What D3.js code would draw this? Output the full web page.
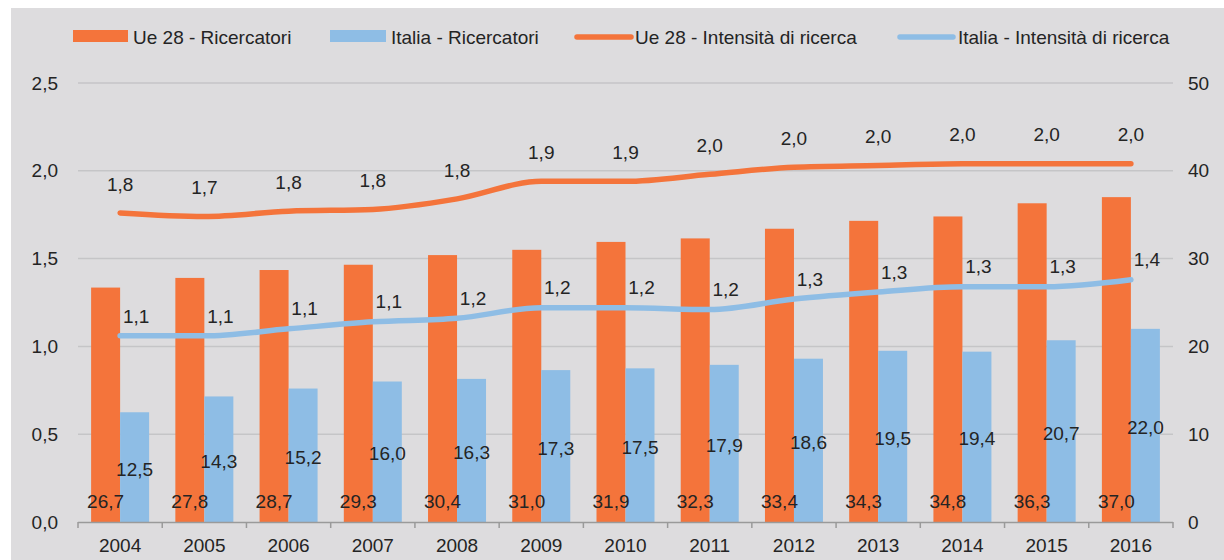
<!DOCTYPE html>
<html>
<head>
<meta charset="utf-8">
<script src="https://cdn.jsdelivr.net/npm/d3@7"></script>
<style>
  html, body { margin: 0; padding: 0; background: #ffffff; }
  svg { display: block; }
  text { font-family: "Liberation Sans", Arial, sans-serif; fill: #242424; }
</style>
</head>
<body>
<svg id="chart" width="1224" height="560"></svg>
<script>
// ---- Data ----
const years = ["2004","2005","2006","2007","2008","2009","2010","2011","2012","2013","2014","2015","2016"];
const ueRicercatori = [26.7, 27.8, 28.7, 29.3, 30.4, 31.0, 31.9, 32.3, 33.4, 34.3, 34.8, 36.3, 37.0];
const itRicercatori = [12.5, 14.3, 15.2, 16.0, 16.3, 17.3, 17.5, 17.9, 18.6, 19.5, 19.4, 20.7, 22.0];
const ueIntensita   = [1.76, 1.74, 1.77, 1.78, 1.84, 1.94, 1.94, 1.98, 2.02, 2.03, 2.04, 2.04, 2.04];
const itIntensita   = [1.06, 1.06, 1.10, 1.14, 1.16, 1.22, 1.22, 1.21, 1.27, 1.31, 1.34, 1.34, 1.38];
const leftTicks  = [0, 0.5, 1.0, 1.5, 2.0, 2.5];
const rightTicks = [0, 10, 20, 30, 40, 50];
const seriesNames = ["Ue 28 - Ricercatori", "Italia - Ricercatori", "Ue 28 - Intensità di ricerca", "Italia - Intensità di ricerca"];

const ORANGE = "#f4743b";
const BLUE = "#8ebde5";
const BG = "#dddcde";
const GRID = "#c5c5c7";
const FS = 19;

const svg = d3.select("#chart");
svg.append("rect").attr("x", 11).attr("y", 8).attr("width", 1213).attr("height", 552).attr("fill", BG);

const plot = { left: 78, right: 1173, top: 83, bottom: 522 };

const x = d3.scaleBand().domain(years).range([plot.left, plot.right]).paddingInner(0).paddingOuter(0);
const yL = d3.scaleLinear().domain([0, 2.5]).range([plot.bottom, plot.top]);
const yR = d3.scaleLinear().domain([0, 50]).range([plot.bottom, plot.top]);
const fmt = v => d3.format(".1f")(v).replace(".", ",");

// gridlines
svg.append("g").selectAll("line").data(leftTicks.slice(1)).join("line")
  .attr("x1", plot.left).attr("x2", plot.right)
  .attr("y1", d => yL(d)).attr("y2", d => yL(d))
  .attr("stroke", GRID).attr("stroke-width", 1.5);

// left axis labels
svg.append("g").selectAll("text").data(leftTicks).join("text")
  .attr("x", 58).attr("y", d => yL(d)).attr("dy", "0.35em")
  .attr("text-anchor", "end").attr("font-size", FS).text(d => fmt(d));

// right axis labels
svg.append("g").selectAll("text").data(rightTicks).join("text")
  .attr("x", 1188).attr("y", d => yR(d)).attr("dy", "0.35em")
  .attr("text-anchor", "start").attr("font-size", FS).text(d => d);

// bars
const barW = 29;
const gBars = svg.append("g");
gBars.selectAll("rect.ue").data(years).join("rect").attr("class", "ue")
  .attr("x", d => x(d) + x.bandwidth() / 2 - barW)
  .attr("width", barW)
  .attr("y", (d, i) => yR(ueRicercatori[i]))
  .attr("height", (d, i) => yR(0) - yR(ueRicercatori[i]))
  .attr("fill", ORANGE);
gBars.selectAll("rect.it").data(years).join("rect").attr("class", "it")
  .attr("x", d => x(d) + x.bandwidth() / 2)
  .attr("width", barW)
  .attr("y", (d, i) => yR(itRicercatori[i]))
  .attr("height", (d, i) => yR(0) - yR(itRicercatori[i]))
  .attr("fill", BLUE);

// x axis
const xAxisG = svg.append("g");
xAxisG.append("line").attr("x1", plot.left).attr("x2", plot.right)
  .attr("y1", plot.bottom + 0.5).attr("y2", plot.bottom + 0.5).attr("stroke", "#9a9a9a").attr("stroke-width", 1.5);
const boundaries = years.map(d => x(d)).concat([x(years[years.length - 1]) + x.bandwidth()]);
xAxisG.selectAll("line.tick").data(boundaries).join("line").attr("class", "tick")
  .attr("x1", d => d).attr("x2", d => d)
  .attr("y1", plot.bottom).attr("y2", plot.bottom + 6)
  .attr("stroke", "#9a9a9a").attr("stroke-width", 1.5);
xAxisG.selectAll("text").data(years).join("text")
  .attr("x", d => x(d) + x.bandwidth() / 2).attr("y", 545).attr("dy", "0.35em")
  .attr("text-anchor", "middle").attr("font-size", FS).text(d => d);

// bar labels
svg.append("g").selectAll("text").data(years).join("text")
  .attr("x", d => x(d) + x.bandwidth() / 2 - barW / 2)
  .attr("y", 501).attr("dy", "0.35em").attr("text-anchor", "middle").attr("font-size", FS)
  .text((d, i) => fmt(ueRicercatori[i]));
svg.append("g").selectAll("text").data(years).join("text")
  .attr("x", d => x(d) + x.bandwidth() / 2 + barW / 2)
  .attr("y", (d, i) => (yR(itRicercatori[i]) + yR(0)) / 2 + 2).attr("dy", "0.35em")
  .attr("text-anchor", "middle").attr("font-size", FS)
  .text((d, i) => fmt(itRicercatori[i]));

// lines
const cx = d => x(d) + x.bandwidth() / 2;
const lineGen = d3.line().x((d, i) => cx(years[i])).y(d => yL(d)).curve(d3.curveMonotoneX);
svg.append("path").datum(ueIntensita).attr("d", lineGen)
  .attr("fill", "none").attr("stroke", ORANGE).attr("stroke-width", 5.5).attr("stroke-linecap", "round");
svg.append("path").datum(itIntensita).attr("d", lineGen)
  .attr("fill", "none").attr("stroke", BLUE).attr("stroke-width", 5.5).attr("stroke-linecap", "round");

// line labels
svg.append("g").selectAll("text").data(years).join("text")
  .attr("x", d => cx(d)).attr("y", (d, i) => yL(ueIntensita[i]) - 29).attr("dy", "0.35em")
  .attr("text-anchor", "middle").attr("font-size", FS)
  .text((d, i) => fmt(ueIntensita[i]));
svg.append("g").selectAll("text").data(years).join("text")
  .attr("x", d => cx(d) + 16).attr("y", (d, i) => yL(itIntensita[i]) - 20).attr("dy", "0.35em")
  .attr("text-anchor", "middle").attr("font-size", FS)
  .text((d, i) => fmt(itIntensita[i]));

// legend
const legend = svg.append("g");
const legItems = [
  { name: seriesNames[0], type: "rect", color: ORANGE, x0: 73, x1: 128, tx: 133 },
  { name: seriesNames[1], type: "rect", color: BLUE, x0: 330, x1: 386, tx: 391 },
  { name: seriesNames[2], type: "line", color: ORANGE, x0: 577, x1: 631, tx: 635 },
  { name: seriesNames[3], type: "line", color: BLUE, x0: 900, x1: 953, tx: 958 }
];
legItems.forEach(it => {
  if (it.type === "rect") {
    legend.append("rect").attr("x", it.x0).attr("y", 30).attr("width", it.x1 - it.x0).attr("height", 12).attr("fill", it.color);
  } else {
    legend.append("line").attr("x1", it.x0).attr("x2", it.x1).attr("y1", 37).attr("y2", 37)
      .attr("stroke", it.color).attr("stroke-width", 5.5).attr("stroke-linecap", "round");
  }
  legend.append("text").attr("x", it.tx).attr("y", 37).attr("dy", "0.35em").attr("font-size", FS).text(it.name);
});
</script>
</body>
</html>
